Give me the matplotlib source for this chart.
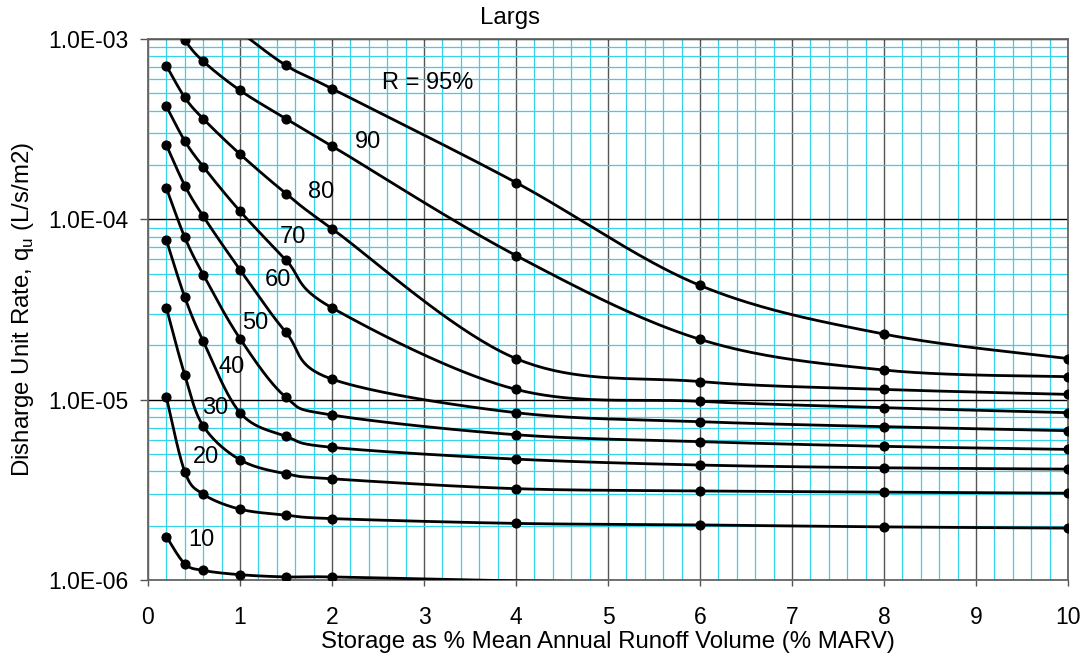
import numpy as np
import matplotlib
matplotlib.use('Agg')
import matplotlib.pyplot as plt
from matplotlib.ticker import FixedLocator, MultipleLocator, LogLocator, NullFormatter, FuncFormatter

plt.rcParams['font.family'] = ['Liberation Sans', 'DejaVu Sans']
plt.rcParams['mathtext.fontset'] = 'custom'
plt.rcParams['mathtext.rm'] = 'Liberation Sans'

# storage (% MARV)
storage = [0.2, 0.4, 0.6, 1, 1.5, 2, 4, 6, 8, 10]

# discharge unit rate (L/s/m2) per reliability curve
r95 = [3.0e-3, 2.2e-3, 1.6e-3, 1.1e-3, 7.14e-4, 5.30e-4, 1.60e-4, 4.3e-5, 2.31e-5, 1.69e-5]
r90 = [1.4e-3, 9.83e-4, 7.52e-4, 5.19e-4, 3.61e-4, 2.55e-4, 6.3e-5, 2.16e-5, 1.46e-5, 1.34e-5]
r80 = [7.11e-4, 4.74e-4, 3.61e-4, 2.30e-4, 1.39e-4, 8.87e-5, 1.69e-5, 1.26e-5, 1.14e-5, 1.07e-5]
r70 = [4.23e-4, 2.72e-4, 1.96e-4, 1.11e-4, 5.94e-5, 3.23e-5, 1.14e-5, 9.79e-6, 9.03e-6, 8.47e-6]
r60 = [2.58e-4, 1.54e-4, 1.04e-4, 5.25e-5, 2.36e-5, 1.30e-5, 8.47e-6, 7.55e-6, 7.08e-6, 6.73e-6]
r50 = [1.49e-4, 7.94e-5, 4.94e-5, 2.18e-5, 1.03e-5, 8.22e-6, 6.39e-6, 5.85e-6, 5.51e-6, 5.30e-6]
r40 = [7.67e-5, 3.70e-5, 2.11e-5, 8.47e-6, 6.26e-6, 5.44e-6, 4.68e-6, 4.34e-6, 4.19e-6, 4.12e-6]
r30 = [3.23e-5, 1.37e-5, 7.15e-6, 4.64e-6, 3.88e-6, 3.64e-6, 3.21e-6, 3.12e-6, 3.07e-6, 3.03e-6]
r20 = [1.03e-5, 3.98e-6, 2.99e-6, 2.47e-6, 2.29e-6, 2.19e-6, 2.06e-6, 2.02e-6, 1.97e-6, 1.94e-6]
r10 = [1.74e-6, 1.23e-6, 1.13e-6, 1.07e-6, 1.04e-6, 1.04e-6, 9.9e-7, 9.7e-7, 9.6e-7, 9.5e-7]

series = [r95, r90, r80, r70, r60, r50, r40, r30, r20, r10]
labels = ['R = 95%', '90', '80', '70', '60', '50', '40', '30', '20', '10']
# label anchor points (x, y) in data units
label_pos = [(3.04, 5.7e-4), (2.39, 2.69e-4), (1.88, 1.42e-4), (1.58, 7.97e-5),
             (1.41, 4.61e-5), (1.17, 2.66e-5), (0.91, 1.52e-5), (0.73, 8.98e-6),
             (0.63, 4.8e-6), (0.58, 1.66e-6)]

YMIN, YMAX = 1e-6, 1e-3


def smooth(xs, ys, n=40):
    # bezier smoothing like a spreadsheet "smoothed line", done in (x, log y)
    x = np.asarray(xs, float)
    y = np.log10(np.asarray(ys, float))
    m = len(x)
    ox, oy = [], []
    t = np.linspace(0, 1, n)
    for i in range(m - 1):
        p0 = np.array([x[max(i - 1, 0)], y[max(i - 1, 0)]])
        p1 = np.array([x[i], y[i]])
        p2 = np.array([x[i + 1], y[i + 1]])
        p3 = np.array([x[min(i + 2, m - 1)], y[min(i + 2, m - 1)]])
        c1 = p1 + (p2 - p0) / 6.0
        c2 = p2 - (p3 - p1) / 6.0
        b = ((1 - t) ** 3)[:, None] * p1 + (3 * (1 - t) ** 2 * t)[:, None] * c1 \
            + (3 * (1 - t) * t ** 2)[:, None] * c2 + (t ** 3)[:, None] * p2
        ox.extend(b[:, 0])
        oy.extend(b[:, 1])
    return np.array(ox), 10 ** np.array(oy)


fig = plt.figure(figsize=(10.87, 6.59), dpi=100)
ax = fig.add_axes([148 / 1087, 1 - 580 / 659, 920 / 1087, 541 / 659])

for s in series:
    sx, sy = smooth(storage, s)
    ax.plot(sx, sy, color='black', lw=2.0, zorder=3)
    # markers only where the point lies inside the plot range
    px = np.array(storage)
    py = np.array(s)
    keep = (py >= YMIN) & (py <= YMAX)
    ax.plot(px[keep], py[keep], 'o', color='black', ms=6.3, zorder=4)

for txt, (lx, ly) in zip(labels, label_pos):
    ax.text(lx, ly, txt, fontsize=17, ha='center', va='center', zorder=5)

ax.set_yscale('log')
ax.set_xlim(0, 10)
ax.set_ylim(YMIN, YMAX)

ax.xaxis.set_major_locator(MultipleLocator(1))
ax.xaxis.set_minor_locator(MultipleLocator(0.2))
ax.yaxis.set_major_locator(FixedLocator([1e-6, 1e-5, 1e-4, 1e-3]))
ax.yaxis.set_minor_locator(LogLocator(base=10, subs=np.arange(2, 10), numticks=20))
ax.yaxis.set_minor_formatter(NullFormatter())
ax.yaxis.set_major_formatter(FuncFormatter(lambda v, p: f"{v:.1E}"))

ax.grid(which='minor', color='#35d3ea', lw=0.9, zorder=0)
ax.grid(which='major', axis='x', color='#555555', lw=1.0, zorder=1)
ax.grid(which='major', axis='y', color='black', lw=1.0, zorder=1)
ax.set_axisbelow(True)

ax.tick_params(which='minor', length=0)
ax.tick_params(axis='x', which='major', length=4.5, width=1, color='#555555', pad=14, labelsize=16.5)
ax.tick_params(axis='y', which='major', length=6, width=1, color='#555555', pad=8, labelsize=16.5)

for sp in ax.spines.values():
    sp.set_color('#666666')
    sp.set_linewidth(1.3)

ax.set_xlabel('Storage as % Mean Annual Runoff Volume (% MARV)', fontsize=17.3, labelpad=2)
ax.set_ylabel(r'Disharge Unit Rate, q$_\mathregular{u}$ (L/s/m2)', fontsize=17.3, labelpad=9)
fig.text(510 / 1087, 1 - 18 / 659, 'Largs', fontsize=17.3, ha='center', va='center')

fig.savefig('out.png', dpi=100)
